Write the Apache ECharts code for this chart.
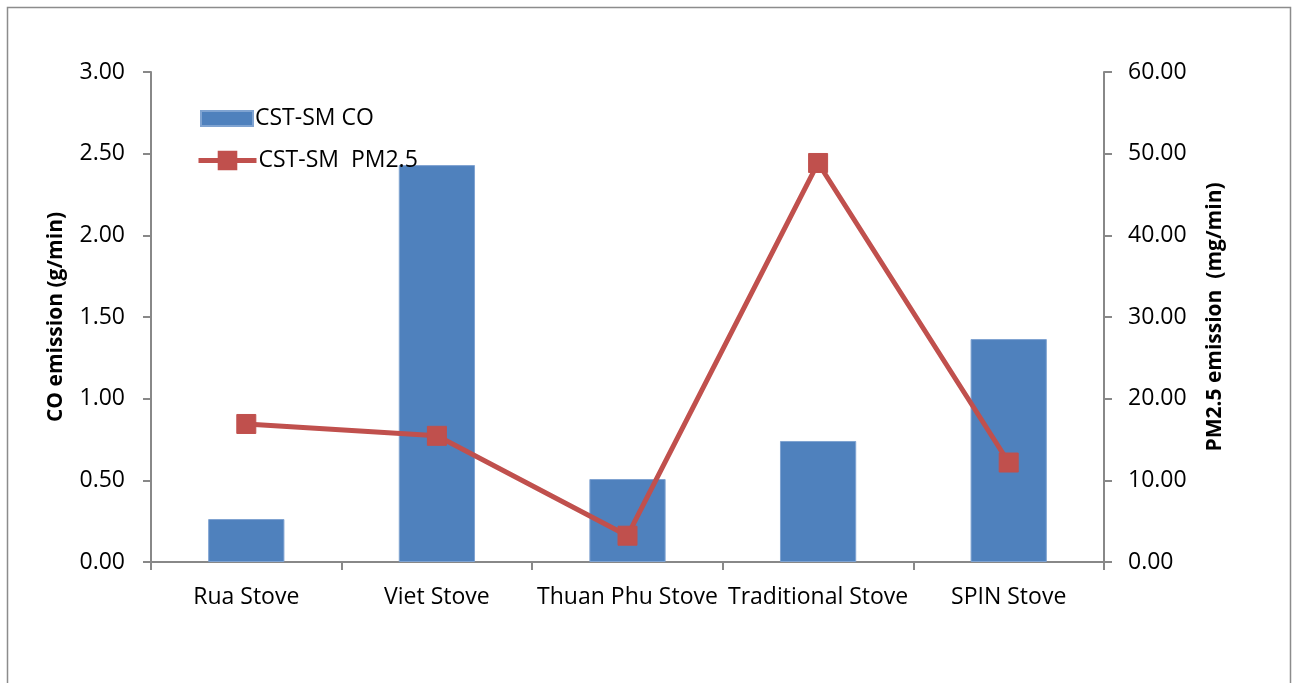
<!DOCTYPE html>
<html>
<head>
<meta charset="utf-8">
<script src="https://cdn.jsdelivr.net/npm/echarts@6/dist/echarts.min.js"></script>
<style>
  html, body { margin: 0; padding: 0; background: #fff; }
  #chart { width: 1297px; height: 683px; }
</style>
</head>
<body>
<div id="chart"></div>
<script>
// Stove categories and measured emissions
const categories = ['Rua Stove', 'Viet Stove', 'Thuan Phu Stove', 'Traditional Stove', 'SPIN Stove'];
const coEmission = [0.263, 2.43, 0.508, 0.741, 1.365];      // g/min
const pm25Emission = [16.9, 15.45, 3.22, 48.86, 12.18];     // mg/min

const FONT = '"Open Sans", "Liberation Sans", sans-serif';
const AXIS_GRAY = '#888888';
const LABEL_SIZE = 23;

const chart = echarts.init(document.getElementById('chart'), null, { renderer: 'canvas' });

const legendText = { fontFamily: FONT, fontSize: LABEL_SIZE, color: '#000', padding: [0, 0, 0, -3] };

chart.setOption({
  backgroundColor: '#ffffff',
  animation: false,
  textStyle: { fontFamily: FONT },
  graphic: [{
    type: 'rect',
    shape: { x: 7.5, y: 7.5, width: 1283, height: 700 },
    style: { fill: 'none', stroke: '#8c8c8c', lineWidth: 1.5 },
    silent: true
  }],
  legend: [
    {
      left: 200,
      top: 107,
      itemWidth: 52,
      itemHeight: 15,
      padding: 0,
      textStyle: legendText,
      data: [{ name: 'CST-SM CO', icon: 'rect' }]
    },
    {
      left: 196,
      top: 149,
      itemWidth: 58,
      itemHeight: 22,
      padding: 0,
      textStyle: legendText,
      lineStyle: { width: 5 },
      data: [{ name: 'CST-SM  PM2.5' }]
    }
  ],
  grid: { left: 151, right: 193, top: 72, bottom: 121 },
  xAxis: {
    type: 'category',
    data: categories,
    boundaryGap: true,
    axisLine: { lineStyle: { color: AXIS_GRAY, width: 2 } },
    axisTick: { show: true, length: 8, inside: false, lineStyle: { color: AXIS_GRAY, width: 2 } },
    axisLabel: { interval: 0, margin: 24, fontSize: LABEL_SIZE, color: '#000', fontFamily: FONT }
  },
  yAxis: [
    {
      type: 'value',
      min: 0, max: 3, interval: 0.5,
      name: 'CO emission (g/min)',
      nameLocation: 'middle',
      nameGap: 84,
      nameRotate: 90,
      nameTextStyle: { fontSize: 21, fontWeight: 'bold', color: '#000', fontFamily: FONT },
      axisLine: { show: true, lineStyle: { color: AXIS_GRAY, width: 2 } },
      axisTick: { show: true, length: 8, lineStyle: { color: AXIS_GRAY, width: 2 } },
      splitLine: { show: false },
      axisLabel: { margin: 26, fontSize: LABEL_SIZE, color: '#000', fontFamily: FONT,
        formatter: v => v.toFixed(2) }
    },
    {
      type: 'value',
      min: 0, max: 60, interval: 10,
      position: 'right',
      name: 'PM2.5 emission  (mg/min)',
      nameLocation: 'middle',
      nameGap: 101,
      nameRotate: 90,
      nameTextStyle: { fontSize: 21, fontWeight: 'bold', color: '#000', fontFamily: FONT },
      axisLine: { show: true, lineStyle: { color: AXIS_GRAY, width: 2 } },
      axisTick: { show: true, length: 8, lineStyle: { color: AXIS_GRAY, width: 2 } },
      splitLine: { show: false },
      axisLabel: { margin: 24, fontSize: LABEL_SIZE, color: '#000', fontFamily: FONT,
        formatter: v => v.toFixed(2) }
    }
  ],
  series: [
    {
      name: 'CST-SM CO',
      type: 'bar',
      yAxisIndex: 0,
      data: coEmission,
      barWidth: '40%',
      itemStyle: { color: '#4F81BD', borderColor: '#7FA3D1', borderWidth: 1 }
    },
    {
      name: 'CST-SM  PM2.5',
      type: 'line',
      yAxisIndex: 1,
      data: pm25Emission,
      symbol: 'rect',
      symbolSize: 19,
      lineStyle: { color: '#C0504D', width: 5 },
      itemStyle: { color: '#C0504D', borderColor: '#C0504D', borderWidth: 1 },
      z: 3
    }
  ]
});
</script>
</body>
</html>
